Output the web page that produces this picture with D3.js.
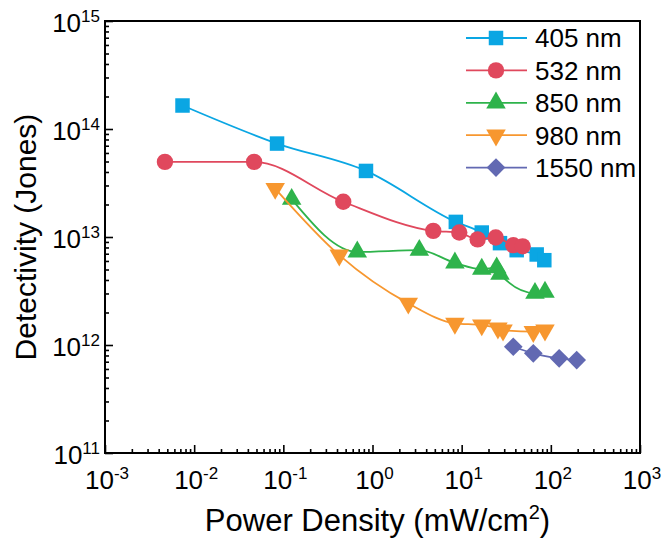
<!DOCTYPE html>
<html>
<head>
<meta charset="utf-8">
<script src="https://cdn.jsdelivr.net/npm/d3@7"></script>
<style>
  body { margin: 0; background: #fff; }
  svg { font-family: "Liberation Sans", Arial, sans-serif; }
</style>
</head>
<body>
<svg width="663" height="542"></svg>
<script>
// power density (mW/cm2) and detectivity (Jones) per wavelength
var p405 = [0.0074, 0.085, 0.845, 8.6, 16.8, 26.9, 41.4, 69.4, 84.5];
var d405 = [1.65e14, 7.33e13, 4.09e13, 1.38e13, 1.10e13, 8.77e12, 7.55e12, 6.89e12, 6.1e12];

var p532 = [0.0047, 0.047, 0.47, 4.8, 9.4, 15.1, 24.1, 37.9, 48.3];
var d532 = [4.96e13, 4.96e13, 2.12e13, 1.14e13, 1.10e13, 9.5e12, 9.9e12, 8.4e12, 8.2e12];

var p850 = [0.124, 0.675, 3.35, 8.4, 16.8, 24.7, 26.9, 66.4, 86];
var d850 = [2.24e13, 7.28e12, 7.55e12, 5.76e12, 5.04e12, 5.2e12, 4.53e12, 3.02e12, 3.09e12];

var p980 = [0.081, 0.424, 2.52, 8.4, 16.8, 25.5, 29.1, 63.6, 86];
var d980 = [2.81e13, 6.79e12, 2.43e12, 1.585e12, 1.53e12, 1.43e12, 1.37e12, 1.33e12, 1.37e12];

var p1550 = [37.9, 63.6, 124, 195];
var d1550 = [9.63e11, 8.37e11, 7.52e11, 7.25e11];

var seriesNames = ["405 nm", "532 nm", "850 nm", "980 nm", "1550 nm"];
var xExponents = [-3, -2, -1, 0, 1, 2, 3];
var yExponents = [11, 12, 13, 14, 15];

function createVisualization() {
    var svg = d3.select("svg"),
        margin = {top: 21, right: 23, bottom: 89, left: 105},
        width = +svg.attr("width") - margin.left - margin.right,
        height = +svg.attr("height") - margin.top - margin.bottom,
        g = svg.append("g").attr("transform", "translate(" + margin.left + "," + margin.top + ")");

    var x = d3.scaleLog().domain([1e-3, 1e3]).range([0, width]);
    var y = d3.scaleLog().domain([1e11, 1e15]).range([height, 0]);

    var colors = ["#0aa6e3", "#e0485d", "#2eb34b", "#f7972f", "#6269b2"];
    var symbols = [
        {type: d3.symbolSquare, size: 210, rotate: 0},
        {type: d3.symbolCircle, size: 210, rotate: 0},
        {type: d3.symbolTriangle, size: 165, rotate: 0},
        {type: d3.symbolTriangle, size: 165, rotate: 180},
        {type: d3.symbolSquare, size: 175, rotate: 45}
    ];

    var series = [
        {name: seriesNames[0], p: p405, d: d405},
        {name: seriesNames[1], p: p532, d: d532},
        {name: seriesNames[2], p: p850, d: d850},
        {name: seriesNames[3], p: p980, d: d980},
        {name: seriesNames[4], p: p1550, d: d1550}
    ];
    series.forEach(function(s, i) {
        s.color = colors[i];
        s.sym = symbols[i];
        s.points = s.p.map(function(v, j) { return {x: v, y: s.d[j]}; });
    });

    // minor ticks 2..9 in every decade
    function minorTicks(lo, hi) {
        var out = [];
        for (var e = lo; e < hi; e++) {
            for (var k = 2; k <= 9; k++) out.push(k * Math.pow(10, e));
        }
        return out;
    }

    g.append("g")
        .attr("transform", "translate(0," + height + ")")
        .call(d3.axisBottom(x).tickValues(minorTicks(-3, 3)).tickSize(-4).tickFormat(""))
        .call(function(a) { a.select(".domain").remove(); });

    g.append("g")
        .call(d3.axisLeft(y).tickValues(minorTicks(11, 15)).tickSize(-4).tickFormat(""))
        .call(function(a) { a.select(".domain").remove(); });

    g.append("g")
        .attr("transform", "translate(0," + height + ")")
        .call(d3.axisBottom(x).tickValues(xExponents.map(function(e) { return Math.pow(10, e); })).tickSize(-8).tickFormat(""))
        .call(function(a) { a.select(".domain").remove(); });

    g.append("g")
        .call(d3.axisLeft(y).tickValues(yExponents.map(function(e) { return Math.pow(10, e); })).tickSize(-8).tickFormat(""))
        .call(function(a) { a.select(".domain").remove(); });

    g.selectAll(".tick line").attr("stroke", "#000").attr("stroke-width", 1.6);

    // frame
    g.append("rect")
        .attr("width", width)
        .attr("height", height)
        .attr("fill", "none")
        .attr("stroke", "#000")
        .attr("stroke-width", 2);

    // tick labels with superscripts
    var xl = g.append("g").selectAll("text")
        .data(xExponents)
        .enter().append("text")
        .attr("x", function(d) { return x(Math.pow(10, d)) + 2; })
        .attr("y", height + 36)
        .attr("text-anchor", "middle")
        .style("font-size", "26px");
    xl.append("tspan").text("10");
    xl.append("tspan").attr("dy", -10).style("font-size", "17px").text(function(d) { return d; });

    var yl = g.append("g").selectAll("text")
        .data(yExponents)
        .enter().append("text")
        .attr("x", -5)
        .attr("y", function(d) { return y(Math.pow(10, d)) + 11; })
        .attr("text-anchor", "end")
        .style("font-size", "26px");
    yl.append("tspan").text("10");
    yl.append("tspan").attr("dy", -10).style("font-size", "17px").text(function(d) { return d; });

    // axis labels
    var xt = g.append("text")
        .attr("x", width / 2 + 5)
        .attr("y", height + 78)
        .attr("text-anchor", "middle")
        .style("font-size", "31px");
    xt.append("tspan").text("Power Density (mW/cm");
    xt.append("tspan").attr("dy", -12).style("font-size", "20px").text("2");
    xt.append("tspan").attr("dy", 12).text(")");

    g.append("text")
        .attr("transform", "translate(-80," + (height / 2) + ") rotate(-90)")
        .attr("text-anchor", "middle")
        .attr("dy", "0.35em")
        .style("font-size", "30px")
        .text("Detectivity (Jones)");

    // curves and markers
    var line = d3.line()
        .x(function(d) { return x(d.x); })
        .y(function(d) { return y(d.y); })
        .curve(d3.curveMonotoneX);

    var groups = g.append("g").selectAll("g")
        .data(series)
        .enter().append("g");

    groups.append("path")
        .attr("d", function(s) { return line(s.points); })
        .attr("fill", "none")
        .attr("stroke", function(s) { return s.color; })
        .attr("stroke-width", 1.8);

    groups.each(function(s) {
        d3.select(this).selectAll(".mark")
            .data(s.points)
            .enter().append("path")
            .attr("class", "mark")
            .attr("d", d3.symbol().type(s.sym.type).size(s.sym.size))
            .attr("transform", function(d) {
                return "translate(" + x(d.x) + "," + y(d.y) + ") rotate(" + s.sym.rotate + ")";
            })
            .attr("fill", s.color);
    });

    // legend
    var legend = g.append("g")
        .selectAll("g")
        .data(series)
        .enter().append("g")
        .attr("transform", function(d, i) { return "translate(" + (x(1e-3) + 361) + "," + (17 + i * 32.4) + ")"; });

    legend.append("line")
        .attr("x1", 0)
        .attr("x2", 61)
        .attr("stroke", function(d) { return d.color; })
        .attr("stroke-width", 1.8);

    legend.append("path")
        .attr("d", function(d) { return d3.symbol().type(d.sym.type).size(d.sym.size)(); })
        .attr("transform", function(d) { return "translate(30,0) rotate(" + d.sym.rotate + ")"; })
        .attr("fill", function(d) { return d.color; });

    legend.append("text")
        .attr("x", 69)
        .attr("dy", "0.36em")
        .style("font-size", "26px")
        .text(function(d) { return d.name; });
}

createVisualization();
</script>
</body>
</html>
